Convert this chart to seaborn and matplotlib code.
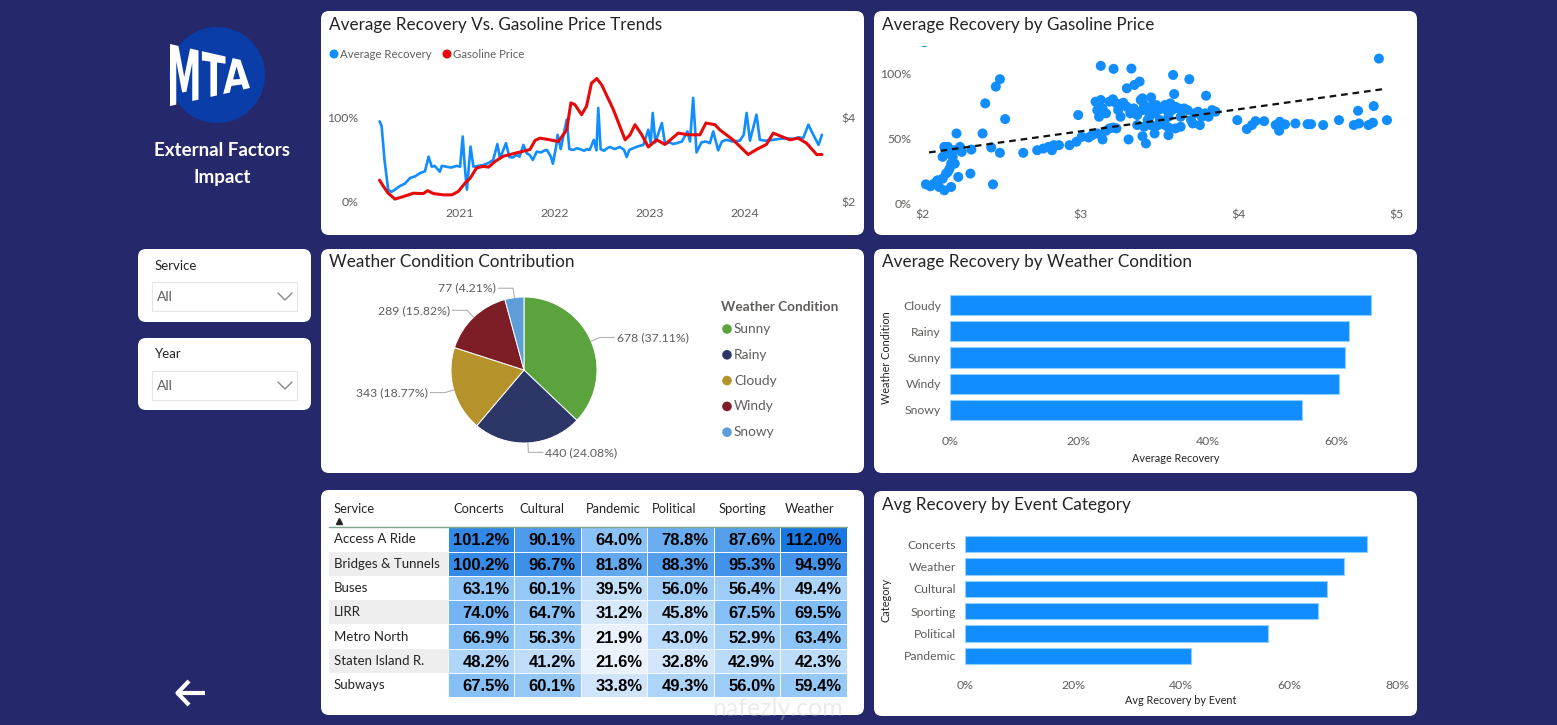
import numpy as np
import pandas as pd
import matplotlib
matplotlib.use("Agg")
import matplotlib.pyplot as plt
import seaborn as sns
from matplotlib.patches import FancyBboxPatch, Circle, Rectangle, PathPatch
from matplotlib.lines import Line2D
from matplotlib.transforms import Affine2D
from matplotlib.textpath import TextPath
from matplotlib.path import Path
from matplotlib.font_manager import FontProperties
from matplotlib.colors import LinearSegmentedColormap

# ---------------- DATA ----------------
rec_dates = ["2020-03-01","2020-03-09","2020-03-20","2020-04-03","2020-04-15","2020-04-29","2020-05-18",
             "2020-06-06","2020-06-26","2020-07-15","2020-08-04","2020-08-22","2020-09-05","2020-09-17",
             "2020-09-28","2020-10-07","2020-10-18","2020-10-26","2020-11-13","2020-12-01","2020-12-22",
             "2021-01-04","2021-01-14","2021-01-22","2021-01-30","2021-02-13","2021-02-24","2021-03-15",
             "2021-04-03","2021-04-20","2021-05-11","2021-05-27","2021-06-06","2021-06-29","2021-07-12",
             "2021-07-25","2021-08-09","2021-08-20","2021-09-04","2021-09-17","2021-09-28","2021-10-10",
             "2021-10-25","2021-11-10","2021-11-22","2021-12-03","2021-12-18","2021-12-26","2022-01-07",
             "2022-01-13","2022-01-25","2022-02-17","2022-02-27","2022-03-15","2022-03-28","2022-04-08",
             "2022-04-25","2022-05-05","2022-05-16","2022-06-01","2022-06-11","2022-06-18","2022-06-27",
             "2022-07-10","2022-07-22","2022-08-02","2022-08-20","2022-09-09","2022-09-25","2022-10-05",
             "2022-10-15","2022-10-30","2022-11-15","2022-12-08","2022-12-27","2023-01-05","2023-01-13",
             "2023-01-23","2023-02-17","2023-03-01","2023-03-20","2023-04-01","2023-04-15","2023-05-05",
             "2023-05-26","2023-06-05","2023-06-17","2023-06-30","2023-07-19","2023-08-05","2023-08-20",
             "2023-09-02","2023-09-21","2023-10-05","2023-10-23","2023-11-15","2023-12-13","2023-12-28",
             "2024-01-08","2024-01-21","2024-02-15","2024-02-28","2024-03-20","2024-04-19","2024-05-10",
             "2024-06-09","2024-07-05","2024-07-25","2024-08-12","2024-09-01","2024-09-20","2024-10-10",
             "2024-10-23"]
rec_values = [0.96,0.90,0.50,0.147,0.12,0.147,0.19,
              0.218,0.286,0.305,0.345,0.365,0.54,0.42,
              0.43,0.40,0.36,0.43,0.42,0.41,0.43,
              0.42,0.78,0.42,0.147,0.66,0.42,0.43,
              0.44,0.46,0.50,0.69,0.52,0.70,0.535,
              0.53,0.56,0.54,0.68,0.58,0.56,0.50,
              0.60,0.59,0.61,0.62,0.54,0.456,0.655,
              0.80,0.63,0.98,0.63,0.62,0.64,0.63,
              0.61,0.63,0.62,0.74,0.615,1.12,0.63,
              0.61,0.64,0.655,0.63,0.655,0.62,0.535,
              0.62,0.64,0.66,0.68,0.86,0.70,1.06,
              0.71,0.94,0.695,0.71,0.69,0.70,0.72,
              0.84,0.72,1.24,0.59,0.71,0.72,0.70,
              0.84,0.615,0.72,0.74,0.72,0.73,0.80,
              1.06,0.73,1.04,0.74,0.73,0.74,0.75,
              0.76,0.75,0.77,0.76,0.92,0.80,0.68,
              0.80]

gas_dates = ["2020-03-01","2020-03-16","2020-04-03","2020-04-29","2020-06-01","2020-07-09","2020-08-16",
             "2020-09-01","2020-09-24","2020-11-01","2020-12-03","2020-12-28","2021-01-23","2021-02-12",
             "2021-03-08","2021-04-03","2021-04-23","2021-05-19","2021-06-19","2021-07-27","2021-09-04",
             "2021-09-29","2021-10-19","2021-11-07","2021-12-15","2022-01-16","2022-02-17","2022-03-05",
             "2022-03-20","2022-04-15","2022-05-04","2022-05-23","2022-06-05","2022-06-12","2022-07-01",
             "2022-08-15","2022-09-29","2022-10-18","2022-11-06","2022-12-02","2022-12-27","2023-01-28",
             "2023-03-01","2023-04-21","2023-05-29","2023-07-13","2023-08-05","2023-09-09","2023-09-27",
             "2023-11-17","2024-01-14","2024-02-15","2024-03-24","2024-04-19","2024-05-21","2024-06-22",
             "2024-07-24","2024-08-25","2024-10-03","2024-10-23"]
gas_values = [2.52,2.37,2.21,2.07,2.13,2.21,2.20,2.27,2.20,2.17,2.17,2.25,2.45,2.57,2.81,2.85,2.83,2.97,
              3.09,3.15,3.21,3.25,3.47,3.52,3.48,3.44,3.72,4.36,4.32,4.08,4.28,4.83,4.90,4.94,4.79,4.20,
              3.48,3.60,3.84,3.60,3.31,3.48,3.37,3.64,3.60,3.60,3.88,3.84,3.72,3.48,3.13,3.25,3.37,3.64,
              3.56,3.48,3.52,3.40,3.13,3.13]
year_ticks = ["2021", "2022", "2023", "2024"]

scatter_price = [2.01,2.02,2.048,2.07,2.093,2.104,2.126,2.137,2.148,2.159,2.17,2.18,2.18,2.19,2.196,2.159,
                 2.137,2.126,2.148,2.17,2.203,2.214,2.225,2.236,2.247,2.302,2.308,2.379,2.396,2.434,2.445,
                 2.463,2.489,2.489,2.522,2.637,
                 2.725,2.764,2.797,2.819,2.83,2.863,2.93,2.974,3.007,2.985,3.051,3.073,3.106,3.139,3.161,
                 3.183,3.205,3.227,
                 3.095,3.106,3.117,3.128,3.139,3.161,3.183,3.205,3.227,3.238,3.253,3.271,3.293,3.315,3.337,
                 3.359,3.381,3.392,3.403,3.425,3.436,3.447,3.469,3.48,3.491,3.502,3.513,3.535,3.546,3.557,
                 3.568,3.579,3.601,3.623,3.634,3.656,3.678,3.70,3.722,3.744,3.767,3.789,3.811,3.833,3.855,
                 3.359,3.403,3.425,3.447,3.491,3.535,3.557,3.601,3.634,3.711,3.756,3.469,
                 3.128,3.209,3.322,3.293,3.341,3.374,3.392,3.447,3.586,3.593,3.689,3.795,3.304,3.392,3.414,
                 3.557,
                 3.993,4.053,4.086,4.108,4.163,4.236,4.262,4.258,4.295,4.361,4.438,4.46,4.537,4.637,4.731,
                 4.764,4.758,4.824,4.852,4.857,4.941,4.89]
scatter_recovery = [1.24,0.144,0.129,0.149,0.175,0.124,0.188,0.098,0.227,0.24,0.265,0.124,0.304,0.356,0.407,
                    0.433,0.433,0.356,0.381,0.381,0.304,0.536,0.201,0.433,0.394,0.227,0.412,0.536,0.768,
                    0.428,0.144,0.897,0.954,0.387,0.647,0.387,
                    0.407,0.42,0.433,0.407,0.446,0.446,0.446,0.472,0.51,0.678,0.505,0.523,0.536,0.49,0.557,
                    0.575,0.582,0.575,
                    0.781,0.716,0.665,0.794,0.729,0.691,0.781,0.799,0.768,0.716,0.665,0.773,0.742,0.691,
                    0.729,0.678,0.794,0.716,0.755,0.716,0.665,0.742,0.691,0.755,0.716,0.639,0.729,0.755,
                    0.716,0.665,0.768,0.716,0.742,0.729,0.665,0.729,0.716,0.639,0.691,0.704,0.665,0.691,
                    0.665,0.716,0.704,
                    0.601,0.588,0.639,0.601,0.601,0.601,0.582,0.575,0.588,0.613,0.601,0.536,
                    1.057,1.034,1.036,0.884,0.910,0.936,0.807,0.814,0.987,0.840,0.954,0.827,0.49,0.515,
                    0.459,0.523,
                    0.639,0.570,0.601,0.631,0.631,0.601,0.626,0.557,0.606,0.613,0.608,0.608,0.601,0.639,
                    0.601,0.613,0.711,0.601,0.619,0.747,0.639,1.113]
trend_price = [2.04, 4.93]
trend_recovery = [0.39, 0.88]

weather_pie_cats = ["Sunny", "Rainy", "Cloudy", "Windy", "Snowy"]
weather_counts = [678, 440, 343, 289, 77]
weather_colors = ["#5BA33D", "#2C3768", "#B5932A", "#7D1D25", "#5E9DD8"]

weather_bar_cats = ["Cloudy", "Rainy", "Sunny", "Windy", "Snowy"]
weather_recovery = [0.653, 0.619, 0.613, 0.603, 0.546]

event_cats = ["Concerts", "Weather", "Cultural", "Sporting", "Political", "Pandemic"]
event_recovery = [0.744, 0.701, 0.670, 0.654, 0.562, 0.419]

services = ["Access A Ride", "Bridges & Tunnels", "Buses", "LIRR", "Metro North", "Staten Island R.", "Subways"]
table_cols = ["Concerts", "Cultural", "Pandemic", "Political", "Sporting", "Weather"]
table_values = [[101.2, 90.1, 64.0, 78.8, 87.6, 112.0],
                [100.2, 96.7, 81.8, 88.3, 95.3, 94.9],
                [63.1, 60.1, 39.5, 56.0, 56.4, 49.4],
                [74.0, 64.7, 31.2, 45.8, 67.5, 69.5],
                [66.9, 56.3, 21.9, 43.0, 52.9, 63.4],
                [48.2, 41.2, 21.6, 32.8, 42.9, 42.3],
                [67.5, 60.1, 33.8, 49.3, 56.0, 59.4]]

# ---------------- SETUP ----------------
sns.set_theme(style="white")
plt.rcParams['font.family'] = ['Lato', 'DejaVu Sans']

W, H = 1557, 725
fig = plt.figure(figsize=(W / 100, H / 100), dpi=100)
BG = "#25286B"
fig.patch.set_facecolor(BG)
T = Affine2D().scale(1 / W, 1 / H) + fig.transFigure

TXT = "#252423"
GREY = "#605E5C"
BLUE = "#118DFF"
RED = "#E60A0A"


def px_axes(l, t, r, b):
    ax = fig.add_axes([l / W, 1 - b / H, (r - l) / W, (b - t) / H])
    ax.set_facecolor("none")
    return ax


def ftext(x, y, s, **kw):
    return fig.text(x / W, 1 - y / H, s, **kw)


def panel(l, t, r, b, rad=8, fc="white", ec="none", lw=0):
    p = FancyBboxPatch((l, H - b), r - l, b - t, boxstyle=f"round,pad=0,rounding_size={rad}",
                       transform=T, fc=fc, ec=ec, lw=lw, zorder=-1)
    fig.add_artist(p)


def fline(xs, ys, **kw):
    fig.add_artist(Line2D(xs, [H - y for y in ys], transform=T, **kw))


def clean(ax):
    for s in ax.spines.values():
        s.set_visible(False)
    ax.grid(False)


# panels
for box in [(321, 11, 864, 235), (874, 11, 1417, 235), (321, 249, 864, 473),
            (874, 249, 1417, 473), (321, 490, 864, 715), (874, 491, 1417, 716),
            (138, 249, 311, 322), (138, 338, 311, 410)]:
    panel(*box)

title_kw = dict(fontsize=12.3, color=TXT, ha="left", va="center", family=["Lato", "DejaVu Sans"])
ftext(329, 25, "Average Recovery Vs. Gasoline Price Trends", **title_kw)
ftext(882, 25, "Average Recovery by Gasoline Price", **title_kw)
ftext(329, 262, "Weather Condition Contribution", **title_kw)
ftext(882, 262, "Average Recovery by Weather Condition", **title_kw)
ftext(882, 505, "Avg Recovery by Event Category", **title_kw)

# ---------------- LOGO / SIDEBAR ----------------
fig.add_artist(Circle((217, H - 75), 48, transform=T, fc="#0A3DA8", ec="none"))
tp = TextPath((0, 0), "MTA", size=1, prop=FontProperties(family="DejaVu Sans", weight="bold"))
bb = tp.get_extents()
verts = tp.vertices.copy()
u = (verts[:, 0] - bb.x0) / bb.width
v = (verts[:, 1] - bb.y0) / bb.height
hgt = 62 - 36 * u
new = np.column_stack([170 + 80 * u, (H - 75) + (v - 0.5) * hgt])
fig.add_artist(PathPatch(Path(new, tp.codes), transform=T, fc="white", ec="none"))

ftext(222, 151, "External Factors", fontsize=13.5, fontweight="bold", color="white", ha="center", va="center")
ftext(222, 177, "Impact", fontsize=13.5, fontweight="bold", color="white", ha="center", va="center")

for (lbl, ty, dt) in [("Service", 266, 282), ("Year", 354, 371)]:
    ftext(155, ty, lbl, fontsize=9.5, color=TXT, ha="left", va="center")
    fig.add_artist(Rectangle((152, H - (dt + 29)), 145, 29, transform=T, fc="white", ec="#E6E6E6", lw=0.8))
    ftext(157, dt + 15, "All", fontsize=10, color=GREY, ha="left", va="center")
    fline([278, 285, 292], [dt + 11, dt + 18, dt + 11], color="#8A8886", lw=1.0)

# back arrow
fline([177, 205], [693, 693], color="white", lw=3, solid_capstyle="butt")
fline([189, 177.5, 189], [681, 693, 705], color="white", lw=3, solid_capstyle="butt")

# ---------------- LINE CHART ----------------
ax1 = px_axes(372, 76, 830, 202)
rd = pd.to_datetime(rec_dates)
gd = pd.to_datetime(gas_dates)
sns.lineplot(x=rd, y=rec_values, ax=ax1, color=BLUE, lw=1.9)
ax1b = ax1.twinx()
ax1b.set_facecolor("none")
sns.lineplot(x=gd, y=gas_values, ax=ax1b, color=RED, lw=2.2)
ax1.set_xlim(pd.Timestamp("2020-02-01"), pd.Timestamp("2024-11-23"))
ax1.set_ylim(0, 1.5)
ax1b.set_ylim(2, 5)
ax1.set_xticks(pd.to_datetime([f"{y}-01-01" for y in year_ticks]))
ax1.set_xticklabels(year_ticks)
ax1.set_yticks([0, 1])
ax1.set_yticklabels(["0%", "100%"])
ax1b.set_yticks([2, 4])
ax1b.set_yticklabels(["$2", "$4"])
for a in (ax1, ax1b):
    clean(a)
    a.set_xlabel("")
    a.set_ylabel("")
    a.tick_params(length=0, labelsize=8.8, labelcolor=GREY)
ax1.tick_params(axis="y", pad=10)
ax1.tick_params(axis="x", pad=4)
ax1b.tick_params(axis="y", pad=8)

fig.add_artist(Circle((334, H - 54), 4.5, transform=T, fc=BLUE, ec="none"))
ftext(340, 54, "Average Recovery", fontsize=8.2, color=GREY, ha="left", va="center")
fig.add_artist(Circle((447, H - 54), 4.5, transform=T, fc=RED, ec="none"))
ftext(453, 54, "Gasoline Price", fontsize=8.2, color=GREY, ha="left", va="center")

# ---------------- SCATTER ----------------
ax2 = px_axes(918, 46, 1401, 205)
sns.scatterplot(x=scatter_price, y=scatter_recovery, ax=ax2, s=52, color=BLUE, edgecolor="none")
ax2.plot(trend_price, trend_recovery, color="#111111", lw=1.6, ls=(0, (3, 2.2)))
ax2.set_xlim(1.97, 5.03)
ax2.set_ylim(-0.015, 1.21)
ax2.set_xticks([2, 3, 4, 5])
ax2.set_xticklabels(["$2", "$3", "$4", "$5"])
ax2.set_yticks([0, 0.5, 1])
ax2.set_yticklabels(["0%", "50%", "100%"])
clean(ax2)
ax2.tick_params(length=0, labelsize=8.8, labelcolor=GREY)
ax2.tick_params(axis="y", pad=5)
ax2.tick_params(axis="x", pad=3)

# ---------------- PIE ----------------
ax3 = px_axes(451, 297, 597, 443)
wedges, _ = ax3.pie(weather_counts, colors=weather_colors, startangle=90, counterclock=False,
                    wedgeprops=dict(edgecolor="white", linewidth=0.7))
ax3.set_xlim(-1, 1)
ax3.set_ylim(-1, 1)
total = sum(weather_counts)
for w, c in zip(wedges, weather_counts):
    th = np.deg2rad((w.theta1 + w.theta2) / 2)
    cx, cy = np.cos(th), np.sin(th)
    ex, ey = 1.13 * cx, 1.13 * cy
    sgn = 1 if cx >= 0 else -1
    hx = ex + sgn * 0.2
    ax3.plot([cx, ex, hx], [cy, ey, ey], color="#B3B0AD", lw=0.8, clip_on=False)
    ax3.text(hx + sgn * 0.03, ey, f"{c} ({c / total * 100:.2f}%)", ha="left" if sgn > 0 else "right",
             va="center", fontsize=8.8, color=GREY, clip_on=False)

ftext(721, 307, "Weather Condition", fontsize=9.8, fontweight="bold", color=GREY, ha="left", va="center")
for i, (cat, col) in enumerate(zip(weather_pie_cats, weather_colors)):
    yy = 329 + i * 25.8
    fig.add_artist(Circle((727, H - yy), 4.8, transform=T, fc=col, ec="none"))
    ftext(734, yy, cat, fontsize=9.8, color=GREY, ha="left", va="center")

# ---------------- WEATHER BAR ----------------
ax4 = px_axes(950, 292, 1401, 423)
sns.barplot(x=weather_recovery, y=weather_bar_cats, orient="h", color=BLUE, saturation=1,
            width=0.77, ax=ax4, edgecolor="#8FD0FF", linewidth=0.8)
ax4.set_xlim(0, 0.70)
ax4.set_xticks([0, 0.2, 0.4, 0.6])
ax4.set_xticklabels(["0%", "20%", "40%", "60%"])
clean(ax4)
ax4.tick_params(length=0, labelsize=8.8, labelcolor=GREY)
ax4.tick_params(axis="x", pad=9.5)
ax4.tick_params(axis="y", pad=6.5)
ax4.set_xlabel("Average Recovery", fontsize=7.8, color=TXT)
ax4.set_ylabel("Weather Condition", fontsize=7.8, color=TXT)
ax4.xaxis.set_label_coords(0.5, (423 - 459) / (423 - 292))
ax4.xaxis.label.set_va("center")
ax4.yaxis.set_label_coords((886 - 950) / (1401 - 950), 0.5)
ax4.yaxis.label.set_va("center")

# ---------------- EVENT BAR ----------------
ax6 = px_axes(965, 533, 1397, 667)
sns.barplot(x=event_recovery, y=event_cats, orient="h", color=BLUE, saturation=1,
            width=0.74, ax=ax6, edgecolor="#8FD0FF", linewidth=0.8)
ax6.set_xlim(0, 0.80)
ax6.set_xticks([0, 0.2, 0.4, 0.6, 0.8])
ax6.set_xticklabels(["0%", "20%", "40%", "60%", "80%"])
clean(ax6)
ax6.tick_params(length=0, labelsize=8.8, labelcolor=GREY)
ax6.tick_params(axis="x", pad=9.5)
ax6.tick_params(axis="y", pad=6.5)
ax6.set_xlabel("Avg Recovery by Event", fontsize=7.8, color=TXT)
ax6.set_ylabel("Category", fontsize=7.8, color=TXT)
ax6.xaxis.set_label_coords(0.5, (667 - 701) / (667 - 533))
ax6.xaxis.label.set_va("center")
ax6.yaxis.set_label_coords((886 - 965) / (1397 - 965), 0.5)
ax6.yaxis.label.set_va("center")

# ---------------- TABLE HEATMAP ----------------
ax5 = px_axes(448, 527.3, 846.6, 697.3)
df = pd.DataFrame(table_values, index=services, columns=table_cols)
labels = df.map(lambda v: f"{v:.1f}%").values
cmap = LinearSegmentedColormap.from_list("pbi", ["#EAF3FD", "#86C0F6", "#1877E0"])
sns.heatmap(df, ax=ax5, cmap=cmap, vmin=df.values.min(), vmax=df.values.max(), cbar=False,
            annot=labels, fmt="", linewidths=0.6, linecolor="#F2F8FE",
            annot_kws=dict(fontsize=12.0, fontweight="bold", color="black", family="Liberation Sans"),
            xticklabels=False, yticklabels=services)
cw = (846.6 - 448) / 6
for t in ax5.texts:
    x, y = t.get_position()
    t.set_position((x + 0.5 - 5 / cw, y + 0.06))
    t.set_ha("right")
ax5.set_xlabel("")
ax5.set_ylabel("")
ax5.tick_params(axis="y", length=0, pad=(448 - 334) * 0.72, labelsize=9.5, labelcolor=TXT)
for lab in ax5.get_yticklabels():
    lab.set_ha("left")
    lab.set_rotation(0)
left_w = (448 - 329) / cw
for i in range(1, len(services), 2):
    ax5.add_patch(Rectangle((-left_w, i), left_w, 1, fc="#EEEEEE", ec="none", clip_on=False, zorder=0))
for j, col in enumerate(table_cols):
    ax5.text(j + 5 / cw, -0.75, col, ha="left", va="center", fontsize=9.3, color=TXT, clip_on=False)
ax5.text((334 - 448) / cw, -0.75, "Service", ha="left", va="center", fontsize=9.3, color=TXT, clip_on=False)
ax5.plot([(339 - 448) / cw], [-0.28], marker="^", ms=4, color=TXT, clip_on=False)
ax5.plot([-left_w, 6], [0, 0], color="#7FA88A", lw=1, clip_on=False)

# watermark
ftext(778, 708, "nafezly.com", fontsize=18, color="#C8C8C8", alpha=0.35, ha="center", va="center")

fig.savefig("out.png", dpi=100, facecolor=BG)
